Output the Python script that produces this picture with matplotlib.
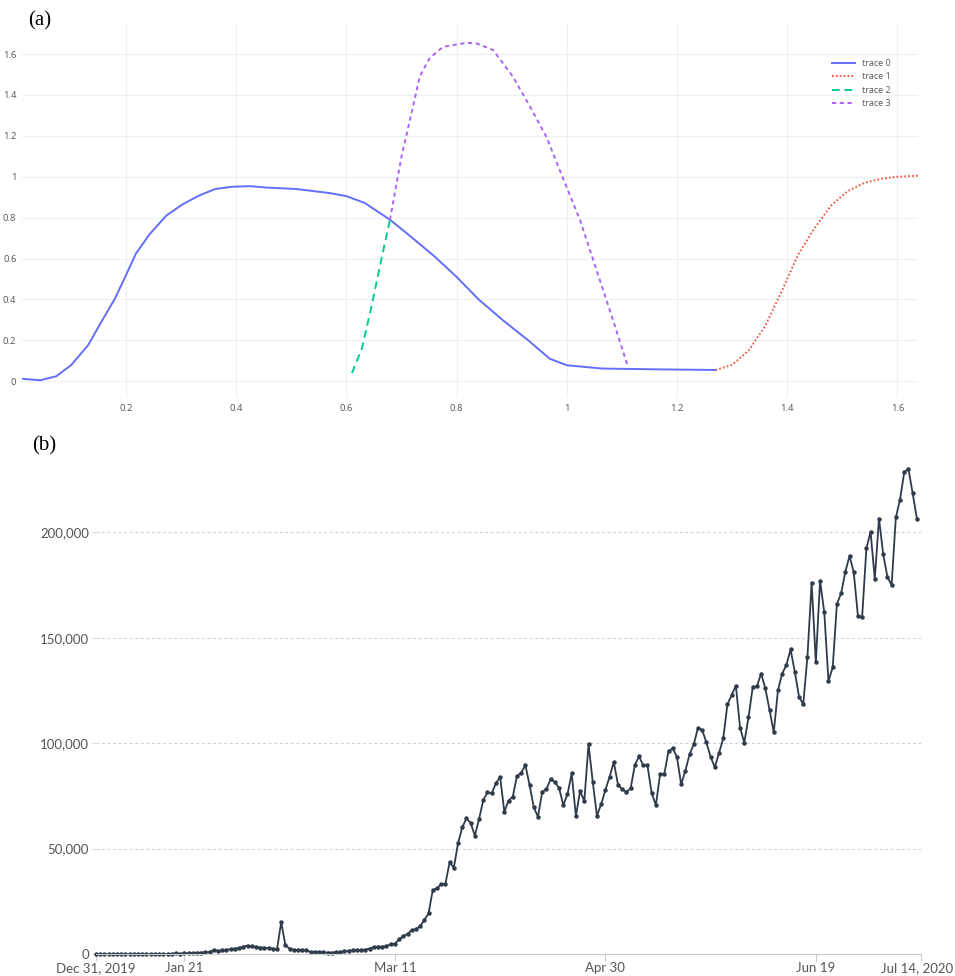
import datetime

import matplotlib
matplotlib.use('Agg')
import matplotlib.pyplot as plt
import matplotlib.dates as mdates
import matplotlib.transforms as mtransforms
from matplotlib.ticker import FuncFormatter

# (a) four traces
t0_x = [0.011, 0.044, 0.073, 0.10, 0.131, 0.155, 0.18, 0.20, 0.218, 0.243,
        0.273, 0.303, 0.334, 0.362, 0.392, 0.425, 0.455, 0.509, 0.57, 0.60,
        0.633, 0.679, 0.72, 0.76, 0.80, 0.84, 0.884, 0.93, 0.969, 1.0,
        1.065, 1.169, 1.27]
t0_y = [0.012, 0.005, 0.024, 0.078, 0.176, 0.29, 0.405, 0.52, 0.625, 0.72,
        0.81, 0.866, 0.91, 0.94, 0.951, 0.954, 0.947, 0.94, 0.92, 0.905,
        0.872, 0.79, 0.70, 0.61, 0.51, 0.40, 0.298, 0.20, 0.11, 0.078,
        0.062, 0.058, 0.055]
t1_x = [1.27, 1.30, 1.33, 1.36, 1.39, 1.42, 1.45, 1.48, 1.51, 1.54, 1.57,
        1.60, 1.637]
t1_y = [0.055, 0.08, 0.15, 0.27, 0.44, 0.62, 0.75, 0.86, 0.93, 0.97, 0.99,
        1.0, 1.005]
t2_x = [0.61, 0.628, 0.645, 0.662, 0.679]
t2_y = [0.04, 0.16, 0.36, 0.58, 0.79]
t3_x = [0.679, 0.70, 0.718, 0.733, 0.751, 0.775, 0.818, 0.836, 0.866, 0.902,
        0.933, 0.963, 0.993, 1.024, 1.054, 1.084, 1.11]
t3_y = [0.79, 1.10, 1.31, 1.49, 1.58, 1.635, 1.655, 1.652, 1.62, 1.49,
        1.344, 1.195, 0.993, 0.788, 0.543, 0.298, 0.078]

# (b) daily new cases, one value per day from Dec 31, 2019
start_date = datetime.date(2019, 12, 31)
cases = [0] * 18 + [
    100, 300, 150, 300, 400, 500, 600, 700, 800, 1000,
    1900, 1500, 1700, 2000, 2300, 2600, 2900, 3500, 4000, 3600,
    3300, 3100, 3000, 2800, 2600, 2200, 15150, 4100, 2600, 2000,
    2000, 2000, 1800, 900, 1100, 1000, 900, 700, 700, 800,
    1000, 1300, 1600, 1700, 1700, 1800, 2100, 2600, 3300, 3500,
    3500, 3700, 4700, 4900, 7000, 8500, 9500, 11400, 11700, 13300,
    16100, 19300, 30300, 31100, 33200, 33200, 43500, 40900, 52500, 60000,
    64300, 62200, 56100, 64000, 73000, 76600, 76200, 80900, 84000, 67500,
    72700, 74600, 84400, 85900, 89600, 80100, 69500, 65100, 76900, 78100,
    83000, 81400, 78800, 70600, 75700, 85600, 65400, 77300, 72500, 99500,
    81700, 65600, 71000, 77700, 84000, 91100, 80300, 78100, 76900, 78500,
    89600, 93700, 89400, 89400, 76300, 70600, 85300, 85300, 96200, 97500,
    93500, 80400, 86900, 94700, 99400, 107300, 106200, 100300, 93500, 88500,
    95400, 102200, 118400, 122800, 127200, 107300, 100200, 112200, 126400,
    127000, 133000, 125900, 115700, 105100, 125100, 133000, 137000, 144400,
    133800, 122000, 118400, 140900, 176000, 138300, 177000, 162000, 129400,
    135900, 165900, 171000, 181200, 188800, 180900, 160200, 159900, 192300,
    200200, 177800, 206500, 189500, 178800, 174900, 207000, 215500, 228600,
    229900, 218400, 206500]
date_ticks = ['2019-12-31', '2020-01-21', '2020-03-11', '2020-04-30',
              '2020-06-19', '2020-07-14']
date_labels = ['Dec 31, 2019', 'Jan 21', 'Mar 11', 'Apr 30', 'Jun 19',
               'Jul 14, 2020']


def draw_a(fig):
    ax = fig.add_axes([0.023, 0.592, 0.938, 0.383])
    ax.plot(t0_x, t0_y, color='#636efa', lw=1.4, label='trace 0')
    ax.plot(t1_x, t1_y, color='#EF553B', lw=1.4, dashes=(1.2, 1.6),
            label='trace 1')
    ax.plot(t2_x, t2_y, color='#00cc96', lw=1.4, dashes=(5.5, 3.5),
            label='trace 2')
    ax.plot(t3_x, t3_y, color='#ab63fa', lw=1.4, dashes=(3, 2.6),
            label='trace 3')

    ax.set_xlim(0.011, 1.637)
    ax.set_ylim(-0.083, 1.745)
    ax.set_xticks([0.2, 0.4, 0.6, 0.8, 1, 1.2, 1.4, 1.6])
    ax.set_yticks([0, 0.2, 0.4, 0.6, 0.8, 1, 1.2, 1.4, 1.6])
    fmt = FuncFormatter(lambda v, p: '{:g}'.format(round(v, 2)))
    ax.xaxis.set_major_formatter(fmt)
    ax.yaxis.set_major_formatter(fmt)
    ax.tick_params(length=0, labelsize=6.8, labelcolor='#555', pad=4)
    ax.grid(color='#edf0f7', lw=0.9)
    ax.set_axisbelow(True)
    for s in ax.spines.values():
        s.set_visible(False)

    leg = ax.legend(loc='upper left', bbox_to_anchor=(0.895, 0.93),
                    frameon=False, fontsize=6.5, handlelength=2.6,
                    labelspacing=0.5, handletextpad=0.7)
    for t in leg.get_texts():
        t.set_color('#555')

    fig.text(0.042, 0.979, '(a)', family='Liberation Serif', fontsize=15,
             ha='center', va='center')


def draw_b(fig):
    ax = fig.add_axes([0.1005, 0.0225, 0.864, 0.510])
    dates = [start_date + datetime.timedelta(days=i)
             for i in range(len(cases))]
    ax.plot(dates, cases, color='#2f3a4b', lw=1.3, marker='o',
            markersize=2.2, clip_on=False)

    ax.set_xlim(datetime.date(2019, 12, 31), datetime.date(2020, 7, 14))
    ax.set_ylim(0, 236000)
    ax.set_yticks([0, 50000, 100000, 150000, 200000])
    ax.yaxis.set_major_formatter(
        FuncFormatter(lambda v, p: '{:,.0f}'.format(v)))
    ax.set_xticks([mdates.datestr2num(d) for d in date_ticks])
    ax.set_xticklabels(date_labels)
    ax.tick_params(axis='x', length=5, color='#cccccc', labelsize=9.5,
                   labelcolor='#555', pad=1)
    ax.tick_params(axis='y', length=3, color='#dddddd', labelsize=9.5,
                   labelcolor='#555', pad=2)
    for lab in ax.get_xticklabels() + ax.get_yticklabels():
        lab.set_family('Lato')
    # last date label sits a little left, as in the original
    last = ax.get_xticklabels()[-1]
    last.set_transform(last.get_transform() + mtransforms.ScaledTranslation(
        -4 / 100, 0, fig.dpi_scale_trans))
    ax.grid(axis='y', color='#cfcfcf', lw=0.8, ls=(0, (2, 2)))
    ax.set_axisbelow(True)
    for s in ['top', 'right', 'left']:
        ax.spines[s].set_visible(False)
    ax.spines['bottom'].set_color('#cccccc')

    fig.text(0.046, 0.543, '(b)', family='Liberation Serif', fontsize=15,
             ha='center', va='center')


def main():
    plt.rcParams['font.family'] = ['Open Sans', 'DejaVu Sans']
    plt.rcParams['lines.scale_dashes'] = False
    fig = plt.figure(figsize=(9.55, 9.76), dpi=100)
    draw_a(fig)
    draw_b(fig)
    fig.savefig('out.png', dpi=100)


if __name__ == '__main__':
    main()
